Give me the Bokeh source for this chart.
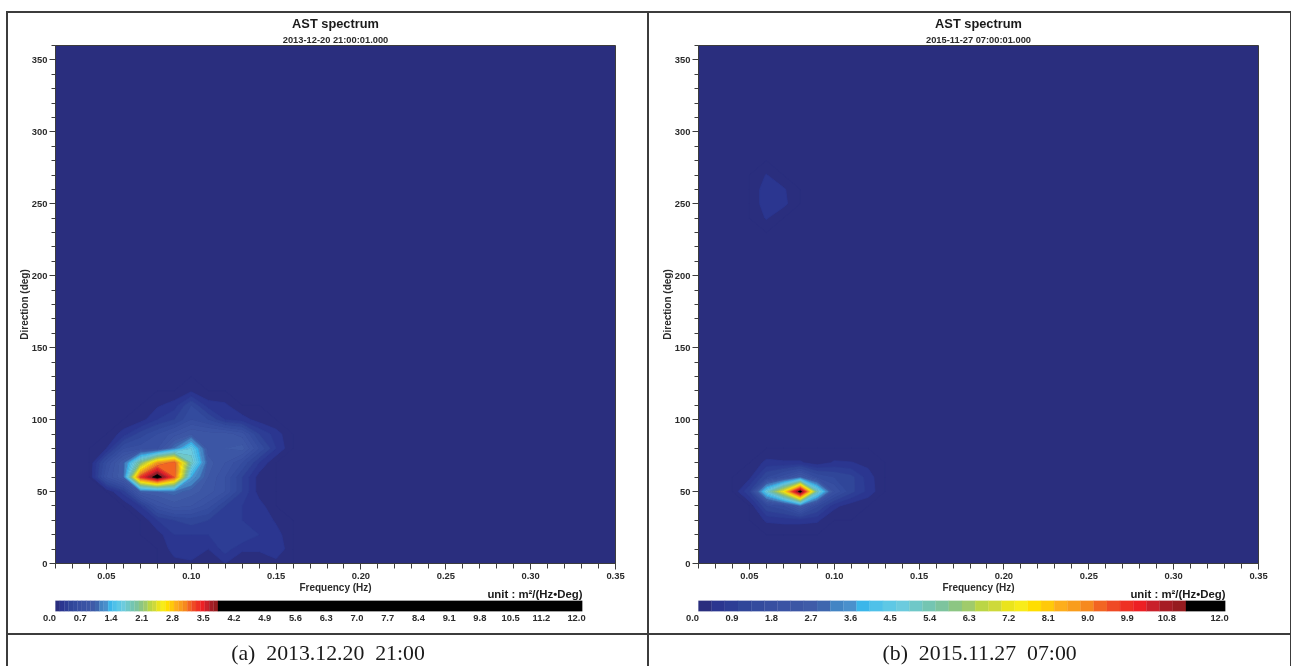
from bokeh.embed import file_html
from bokeh.resources import INLINE
from bokeh.layouts import column, row
from bokeh.plotting import figure
from bokeh.models import (FixedTicker, Label, LinearAxis, Range1d, NumeralTickFormatter, Spacer, Title)
import numpy as np

# ---- data ---------------------------------------------------------------
freq = [round(0.02 + 0.01 * i, 2) for i in range(34)]
direction = [10 * i for i in range(37)]

patch_freq_a = [0.04, 0.05, 0.06, 0.07, 0.08, 0.09, 0.10, 0.11, 0.12, 0.13, 0.14, 0.15, 0.16]
patch_dir_a = [0, 10, 20, 30, 40, 50, 60, 70, 80, 90, 100, 110, 120]
spec_a = [
    [0.00, 0.00, 0.00, 0.00, 0.00, 0.06, 0.07, 0.00, 0.10, 0.00, 0.00, 0.05, 0.00],  # d=0
    [0.00, 0.00, 0.00, 0.00, 0.00, 0.15, 0.20, 0.10, 0.25, 0.12, 0.12, 0.20, 0.00],  # 10
    [0.00, 0.00, 0.00, 0.00, 0.05, 0.20, 0.20, 0.20, 0.30, 0.30, 0.20, 0.15, 0.00],  # 20
    [0.00, 0.00, 0.00, 0.00, 0.20, 0.30, 0.35, 0.30, 0.25, 0.20, 0.20, 0.08, 0.00],  # 30
    [0.00, 0.00, 0.00, 0.20, 0.60, 0.75, 0.70, 0.55, 0.30, 0.20, 0.15, 0.00, 0.00],  # 40
    [0.00, 0.00, 0.25, 0.85, 0.90, 0.95, 0.85, 0.75, 0.60, 0.30, 0.05, 0.00, 0.00],  # 50
    [0.00, 0.60, 0.90, 3.20, 3.90, 3.10, 1.20, 0.80, 0.60, 0.30, 0.05, 0.00, 0.00],  # 60
    [0.00, 0.50, 0.90, 1.90, 2.80, 3.10, 1.70, 0.85, 0.70, 0.50, 0.20, 0.00, 0.00],  # 70
    [0.00, 0.10, 0.50, 0.55, 0.60, 1.00, 1.50, 0.75, 0.80, 0.85, 0.50, 0.20, 0.00],  # 80
    [0.00, 0.00, 0.15, 0.35, 0.50, 0.65, 0.80, 0.75, 0.75, 0.65, 0.30, 0.15, 0.00],  # 90
    [0.00, 0.00, 0.00, 0.05, 0.20, 0.30, 0.50, 0.40, 0.20, 0.15, 0.05, 0.00, 0.00],  # 100
    [0.00, 0.00, 0.00, 0.00, 0.08, 0.15, 0.40, 0.15, 0.12, 0.00, 0.00, 0.00, 0.00],  # 110
    [0.00, 0.00, 0.00, 0.00, 0.00, 0.00, 0.08, 0.00, 0.00, 0.00, 0.00, 0.00, 0.00],  # 120
]

patch_freq_b = [0.04, 0.05, 0.06, 0.07, 0.08, 0.09, 0.10, 0.11, 0.12, 0.13]
patch_dir_b = [20, 30, 40, 50, 60, 70, 80]
spec_b = [
    [0.00, 0.00, 0.00, 0.00, 0.00, 0.00, 0.00, 0.00, 0.00, 0.00],  # d=20
    [0.00, 0.00, 0.35, 0.40, 0.40, 0.35, 0.00, 0.00, 0.00, 0.00],  # 30
    [0.00, 0.00, 1.20, 1.50, 2.60, 1.30, 0.40, 0.10, 0.00, 0.00],  # 40
    [0.00, 0.90, 4.60, 7.20, 11.60, 5.10, 1.80, 1.00, 0.50, 0.00],  # 50
    [0.00, 0.20, 1.20, 1.70, 2.60, 1.50, 1.20, 1.00, 0.45, 0.00],  # 60
    [0.00, 0.00, 0.40, 0.35, 0.35, 0.10, 0.35, 0.32, 0.20, 0.00],  # 70
    [0.00, 0.00, 0.00, 0.00, 0.00, 0.00, 0.00, 0.00, 0.00, 0.00],  # 80
]
blob_freq_b = [0.05, 0.06, 0.07, 0.08]
blob_dir_b = [240, 250, 260, 270]
blob_b = [
    [0.00, 0.33, 0.00, 0.00],
    [0.00, 0.50, 0.40, 0.00],
    [0.00, 0.50, 0.35, 0.00],
    [0.00, 0.32, 0.00, 0.00],
]

palette = ["#2a2e7e", "#2b3690", "#2d3d95", "#304699", "#334b9e", "#374fa1", "#3a53a4", "#3c56a5",
           "#3f5ba8", "#3e66ae", "#4385c4", "#4a90cc", "#3bb6ea", "#4fc1e9", "#5ec8e5", "#6ccbde",
           "#6fc8c8", "#74c5b2", "#7dc49e", "#8cc683", "#a0cb6b", "#bbd645", "#ced93a", "#eae41c",
           "#f8ec1a", "#ffde00", "#ffc90a", "#fdae1c", "#f99d1c", "#f6891f", "#f26522", "#ef4a25",
           "#ee3124", "#ed2024", "#c9202a", "#a61c24", "#961b1f", "#000000"]
level_step_a = 0.1
level_step_b = 0.3
top_level = 12.0
cbar_ticks_a = [0.0, 0.7, 1.4, 2.1, 2.8, 3.5, 4.2, 4.9, 5.6, 6.3, 7.0, 7.7, 8.4, 9.1, 9.8, 10.5, 11.2, 12.0]
cbar_ticks_b = [0.0, 0.9, 1.8, 2.7, 3.6, 4.5, 5.4, 6.3, 7.2, 8.1, 9.0, 9.9, 10.8, 12.0]
x_major = [0.05, 0.10, 0.15, 0.20, 0.25, 0.30, 0.35]
y_major = [0, 50, 100, 150, 200, 250, 300, 350]
title = "AST spectrum"
sub_a = "2013-12-20 21:00:01.000"
sub_b = "2015-11-27 07:00:01.000"
cap_a = "(a)\u00a0\u00a02013.12.20\u00a0\u00a021:00"
cap_b = "(b)\u00a0\u00a02015.11.27\u00a0\u00a007:00"
unit = "unit : m\u00b2/(Hz\u2022Deg)"

# ---- helpers ------------------------------------------------------------
FONT = "Liberation Sans"
TXT = "#2b2b2b"
LINE = "#3c3c3c"
OVERLAP = 14


def grid(patches):
    z = np.zeros((len(direction), len(freq)))
    for pf, pd, vals in patches:
        for j, d in enumerate(pd):
            for i, f in enumerate(pf):
                z[direction.index(d), freq.index(f)] = vals[j][i]
    return z


def levels_for(step):
    return [round(step * i, 3) for i in range(len(palette))] + [top_level]


def spectrum(patches, step, sub, left, right, offset):
    width = left + 560 + right
    p = figure(width=width, height=32 + 518 + 35, x_range=(0.02, 0.35), y_range=(0, 360),
               output_backend="svg", toolbar_location=None, frame_align=False,
               min_border_left=left, min_border_right=right, min_border_top=32, min_border_bottom=35,
               background_fill_color=palette[0], outline_line_color=LINE, outline_line_width=1)
    p.grid.visible = False
    z = grid(patches)
    p.contour(np.array(freq), np.array(direction), z, levels_for(step),
              fill_color=palette, line_color=palette + [palette[-1]], line_width=0.7)

    xa = p.xaxis[0]
    xa.ticker = FixedTicker(ticks=x_major, minor_ticks=freq)
    xa.formatter = NumeralTickFormatter(format="0.00")
    xa.axis_label = "Frequency (Hz)"
    ya = p.yaxis[0]
    ya.ticker = FixedTicker(ticks=y_major, minor_ticks=direction)
    ya.axis_label = "Direction (deg)"
    for ax, major_out, minor_out in ((xa, 6, 5), (ya, 6, 4)):
        ax.major_tick_in = 0
        ax.minor_tick_in = 0
        ax.major_tick_out = major_out
        ax.minor_tick_out = minor_out
        ax.axis_line_color = LINE
        ax.major_tick_line_color = LINE
        ax.minor_tick_line_color = LINE
        ax.major_label_text_font = FONT
        ax.major_label_text_font_size = "9.4px"
        ax.major_label_text_font_style = "bold"
        ax.major_label_text_color = TXT
        ax.axis_label_text_font = FONT
        ax.axis_label_text_font_size = "10px"
        ax.axis_label_text_font_style = "bold"
        ax.axis_label_text_color = TXT
    xa.major_label_standoff = 3
    xa.axis_label_standoff = 0
    ya.major_label_standoff = 2
    ya.axis_label_standoff = -1

    p.add_layout(Title(text=sub, align="center", offset=offset, standoff=2, text_font=FONT,
                       text_font_size="9.3px", text_font_style="bold", text_color=TXT), "above")
    p.add_layout(Title(text=title, align="center", offset=offset, standoff=1, text_font=FONT,
                       text_font_size="12.8px", text_font_style="bold", text_color="#1a1a1a"), "above")
    return p


def cbar(step, ticks, left, width):
    lv = levels_for(step)
    px = 527.0 / top_level
    off = 6.0 / px
    p = figure(width=width, height=35 + OVERLAP, x_range=(-off, top_level), y_range=(0, 1), output_backend="svg",
               toolbar_location=None, frame_align=False, margin=(-OVERLAP, 0, 0, 0),
               border_fill_color=None, background_fill_color=None,
               min_border_left=left - 6, min_border_right=width - left - 527,
               min_border_top=1 + OVERLAP, min_border_bottom=22, outline_line_color=None)
    p.yaxis.visible = False
    p.xaxis.visible = False
    p.grid.visible = False
    p.quad(left=lv[:-1], right=lv[1:], bottom=0, top=1, fill_color=palette, line_color=palette, line_width=0.3)
    p.extra_x_ranges = {"lab": Range1d(0, top_level + off)}
    ax = LinearAxis(x_range_name="lab", ticker=FixedTicker(ticks=ticks), formatter=NumeralTickFormatter(format="0.0"),
                    axis_line_color=None, major_tick_line_color=None, minor_tick_line_color=None,
                    major_tick_out=0, major_tick_in=0, major_label_standoff=3,
                    major_label_text_font=FONT, major_label_text_font_size="9.4px",
                    major_label_text_font_style="bold", major_label_text_color=TXT)
    p.add_layout(ax, "below")
    p.add_layout(Title(text=unit, align="right", standoff=2, text_font=FONT, text_font_size="11.4px",
                       text_font_style="bold", text_color="#1a1a1a"), "above")
    return p


def caption(text, width, cx):
    p = figure(width=width, height=31, x_range=(0, 1), y_range=(0, 1), output_backend="svg",
               toolbar_location=None, min_border=0, outline_line_color=None, frame_align=False)
    p.axis.visible = False
    p.grid.visible = False
    p.add_layout(Label(x=cx, y=0.42, text=text, text_align="center", text_baseline="middle",
                       text_font="Liberation Serif", text_font_size="21.8px", text_color="#1a1a1a"))
    return p


def bar(w, h):
    return Spacer(width=w, height=h, styles={"background-color": LINE})


WA, WB = 639, 641
left_panel = column(
    spectrum([(patch_freq_a, patch_dir_a, spec_a)], level_step_a, sub_a, 47, 32, -8),
    cbar(level_step_a, cbar_ticks_a, 47, WA),
    bar(WA, 2),
    caption(cap_a, WA, 0.5),
    spacing=0,
)
right_panel = column(
    spectrum([(patch_freq_b, patch_dir_b, spec_b), (blob_freq_b, blob_dir_b, blob_b)], level_step_b, sub_b, 49, 32, -9),
    cbar(level_step_b, cbar_ticks_b, 49, WB),
    bar(WB, 2),
    caption(cap_b, WB, 0.515),
    spacing=0,
)
H = 585 + 35 + 2 + 31
root = column(
    bar(2 + WA + 2 + WB + 1, 2),
    row(bar(2, H), left_panel, bar(2, H), right_panel, bar(1, H), spacing=0),
    spacing=0,
    styles={"position": "fixed", "left": "6px", "top": "11px"},
)
open("out.html", "w").write(file_html(root, INLINE))
